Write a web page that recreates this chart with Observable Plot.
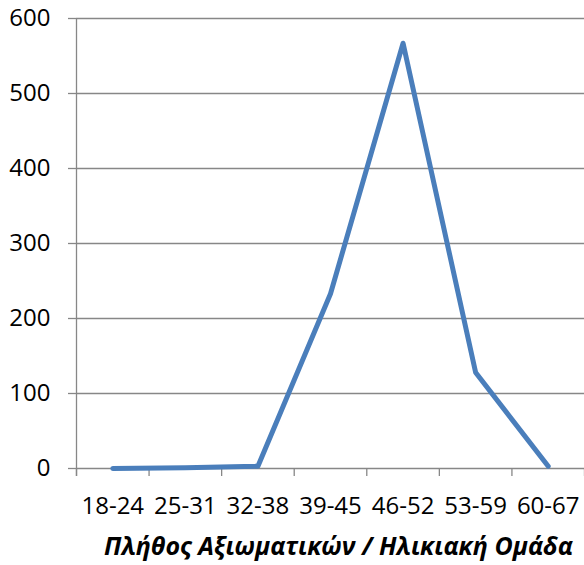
<!DOCTYPE html>
<html><head><meta charset="utf-8">
<script src="https://cdn.jsdelivr.net/npm/d3@7"></script>
<script src="https://cdn.jsdelivr.net/npm/@observablehq/plot@0.6"></script>
<style>body{margin:0;background:#fff} svg{display:block}</style>
</head><body><div id="chart"></div>
<script>
const categories = ["18-24","25-31","32-38","39-45","46-52","53-59","60-67"];
const values = [0, 1, 3, 233, 567, 128, 3];
const yTicks = [0, 100, 200, 300, 400, 500, 600];
const xTitle = "Πλήθος Αξιωματικών / Ηλικιακή Ομάδα";

const data = categories.map((c, i) => ({c, pos: i + 0.5, v: values[i]}));
const boundaries = d3.range(categories.length + 1);
const centers = categories.map((c, i) => i + 0.5);
const grid = "#878787";

const chart = Plot.plot({
  width: 584, height: 565,
  marginLeft: 76, marginRight: 0, marginTop: 18, marginBottom: 97,
  style: {fontFamily: "'Open Sans', sans-serif", fontSize: "24px", color: "#000", background: "#fff"},
  x: {type: "linear", domain: [0, categories.length]},
  y: {domain: [0, 600]},
  marks: [
    Plot.gridY(yTicks, {stroke: grid, strokeOpacity: 1, strokeWidth: 1.3}),
    Plot.axisY(yTicks, {tickSize: 8, tickPadding: 18, stroke: grid, strokeWidth: 1.3, label: null, fontSize: 24}),
    Plot.ruleX([0], {stroke: grid, strokeWidth: 1.3, insetBottom: -8}),
    Plot.axisX(boundaries, {tickSize: 8, tickFormat: () => "", stroke: grid, strokeWidth: 1.3, label: null}),
    Plot.axisX(centers, {tickSize: 0, tickPadding: 28, tickFormat: d => categories[Math.floor(d)], label: null, fontSize: 24}),
    Plot.line(data, {x: "pos", y: "v", stroke: "#4A7EBB", strokeWidth: 5, strokeLinejoin: "round", strokeLinecap: "round"}),
    Plot.text([xTitle], {frameAnchor: "bottom", dy: 78, dx: 8, fontWeight: "bold", fontStyle: "italic", fontSize: 25, lineAnchor: "middle"})
  ]
});
document.getElementById("chart").appendChild(chart);
</script>
</body></html>
